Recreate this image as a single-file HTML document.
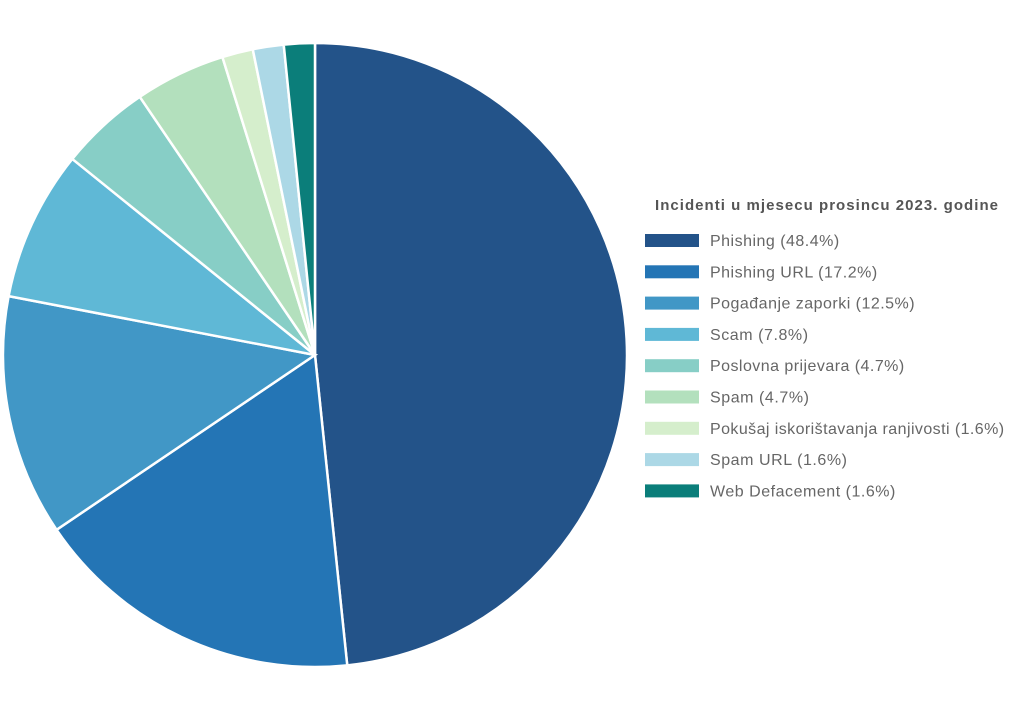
<!DOCTYPE html>
<html><head><meta charset="utf-8"><style>
body{margin:0;background:#fff;width:1024px;height:711px;overflow:hidden;font-family:"Liberation Sans",sans-serif}
</style></head><body>
<svg id="chart" width="1024" height="711" xmlns="http://www.w3.org/2000/svg">
<g id="slices"></g>
<text x="655" y="210" font-size="15" font-weight="bold" fill="#555" textLength="343" lengthAdjust="spacing">Incidenti u mjesecu prosincu 2023. godine</text>
<g id="legend"></g>
</svg>
<script>
const labels=["Phishing","Phishing URL","Pogađanje zaporki","Scam","Poslovna prijevara","Spam","Pokušaj iskorištavanja ranjivosti","Spam URL","Web Defacement"];
const values=[48.4,17.2,12.5,7.8,4.7,4.7,1.6,1.6,1.6];
const colors=["#235389","#2475b5","#4197c6","#5fb8d6","#87cec6","#b3e0bd","#d5eecc","#acd8e6","#0b7e7a"];
const NS="http://www.w3.org/2000/svg";
const cx=315,cy=355,r=312;
const total=values.reduce((a,b)=>a+b,0);
const sg=document.getElementById('slices');
let a0=-Math.PI/2;
values.forEach((v,i)=>{
  const a1=a0+v/total*2*Math.PI;
  const x0=cx+r*Math.cos(a0),y0=cy+r*Math.sin(a0),x1=cx+r*Math.cos(a1),y1=cy+r*Math.sin(a1);
  const p=document.createElementNS(NS,'path');
  p.setAttribute('d',`M${cx},${cy}L${x0},${y0}A${r},${r} 0 ${a1-a0>Math.PI?1:0} 1 ${x1},${y1}Z`);
  p.setAttribute('fill',colors[i]);p.setAttribute('stroke','#fff');p.setAttribute('stroke-width','2.5');
  
  
  sg.appendChild(p);a0=a1;
});
const lg=document.getElementById('legend');
values.forEach((v,i)=>{
  const y=240+i*31.3;
  const g=document.createElementNS(NS,'g');
  
  
  const rc=document.createElementNS(NS,'rect');
  rc.setAttribute('x',645);rc.setAttribute('y',y-6);rc.setAttribute('width',54);rc.setAttribute('height',13);rc.setAttribute('fill',colors[i]);
  const t=document.createElementNS(NS,'text');
  t.setAttribute('x',710);t.setAttribute('y',y+6);t.setAttribute('font-size','16');t.setAttribute('fill','#666');
  t.textContent=labels[i]+' ('+v+'%)';
  g.appendChild(rc);g.appendChild(t);lg.appendChild(g);
  const w=t.getComputedTextLength();
  t.setAttribute('textLength',w*1.06);
  t.setAttribute('lengthAdjust','spacing');
});
</script>
</body></html>
